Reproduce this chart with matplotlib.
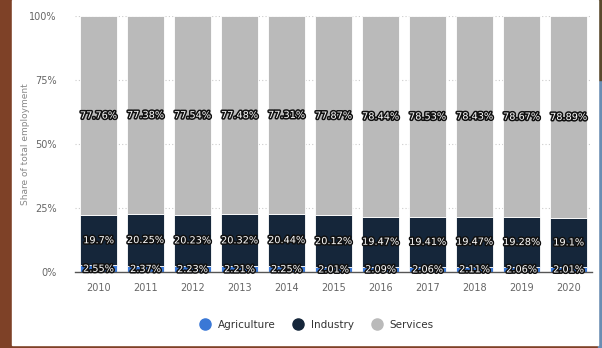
import matplotlib
matplotlib.use("Agg")
import matplotlib.pyplot as plt
import matplotlib.patheffects as pe
from matplotlib.patches import Rectangle
from matplotlib.lines import Line2D
from matplotlib.ticker import FixedLocator

years = ["2010", "2011", "2012", "2013", "2014", "2015",
         "2016", "2017", "2018", "2019", "2020"]
agriculture = [2.55, 2.37, 2.23, 2.21, 2.25, 2.01, 2.09, 2.06, 2.11, 2.06, 2.01]
industry = [19.7, 20.25, 20.23, 20.32, 20.44, 20.12, 19.47, 19.41, 19.47, 19.28, 19.1]
services = [77.76, 77.38, 77.54, 77.48, 77.31, 77.87, 78.44, 78.53, 78.43, 78.67, 78.89]
series_names = ["Agriculture", "Industry", "Services"]
series_colors = ["#3a78d6", "#15263a", "#bababa"]
y_ticks = [0, 25, 50, 75, 100]

W, H = 602, 348
fig = plt.figure(figsize=(W / 100, H / 100), dpi=100, facecolor="#7e4127")

# page background: white card on a wooden / blue backdrop
fig.patches.append(Rectangle((598 / W, 0), 4 / W, 1 - 80 / H,
                             transform=fig.transFigure, color="#6b8db3", zorder=0))
fig.patches.append(Rectangle((598 / W, 1 - 80 / H), 4 / W, 80 / H,
                             transform=fig.transFigure, color="#5a4a2e", zorder=0))
fig.patches.append(Rectangle((12 / W, 3 / H), 586 / W, 1 - 3 / H,
                             transform=fig.transFigure, color="white", zorder=1))

ax = fig.add_axes([75 / W, 1 - 272 / H, 517 / W, 256 / H])
ax.set_facecolor("none")
ax.set_zorder(2)

x = list(range(len(years)))
width = 0.77
bottoms = [0.0] * len(years)
outline = [pe.withStroke(linewidth=2.2, foreground="#111111")]
for vals, color in zip([agriculture, industry, services], series_colors):
    ax.bar(x, vals, width=width, bottom=bottoms, color=color,
           edgecolor="white", linewidth=0.6, zorder=3)
    for xi, v, b in zip(x, vals, bottoms):
        ax.text(xi, b + v / 2, f"{v:g}%", ha="center", va="center",
                fontsize=7, color="white", path_effects=outline, zorder=5)
    bottoms = [b + v for b, v in zip(bottoms, vals)]

ax.set_xlim(-0.5, 10.5)
ax.set_ylim(0, 100)
ax.yaxis.set_major_locator(FixedLocator(y_ticks))
ax.set_yticklabels([f"{t}%" for t in y_ticks])
ax.set_xticks(x)
ax.set_xticklabels(years)
ax.tick_params(axis="both", length=0, labelsize=7, labelcolor="#666666")
ax.tick_params(axis="x", pad=8)
ax.tick_params(axis="y", pad=13)
for s in ["top", "right", "left"]:
    ax.spines[s].set_visible(False)
ax.spines["bottom"].set_color("#555555")
ax.spines["bottom"].set_linewidth(1.0)
ax.spines["bottom"].set_zorder(4)
ax.grid(axis="y", linestyle=(0, (1, 2)), color="#cccccc", linewidth=0.8, zorder=0)
ax.set_axisbelow(True)
ax.set_ylabel("Share of total employment", fontsize=6.5, color="#888888")
ax.yaxis.set_label_coords((30 - 75) / 517, 0.5)

handles = [Line2D([], [], marker="o", linestyle="none", markersize=8,
                  markerfacecolor=c, markeredgecolor=c) for c in series_colors]
leg = fig.legend(handles, series_names, loc="center", ncol=3,
                 bbox_to_anchor=(314 / W, 1 - 325 / H), frameon=False,
                 fontsize=7.5, handletextpad=0.2, columnspacing=1.2)
for t in leg.get_texts():
    t.set_color("#333333")
leg.set_zorder(3)

fig.savefig("out.png", dpi=100, facecolor=fig.get_facecolor())
